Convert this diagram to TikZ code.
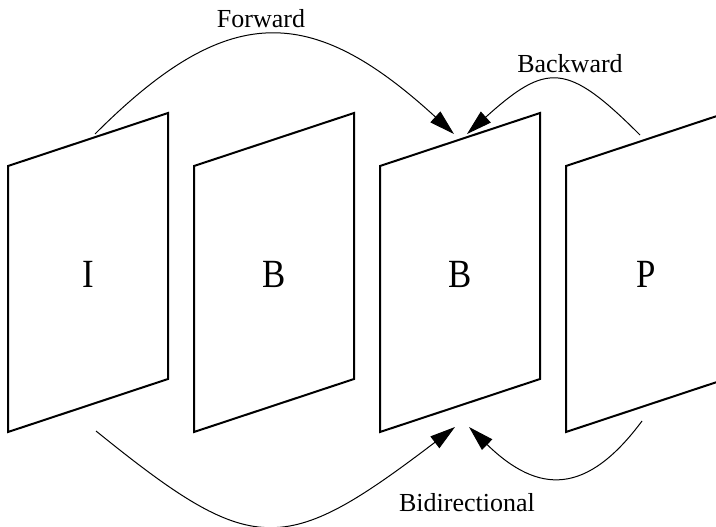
\documentclass[tikz,border=0pt]{standalone}
\usepackage{fontspec}
\setmainfont{Liberation Serif}
\newfontfamily\framefont[FakeStretch=0.87]{Liberation Serif}
\usetikzlibrary{arrows.meta}

\begin{document}
\begin{tikzpicture}[
    x=0.75pt, y=-0.75pt,
    frame/.style={draw=black, line width=1.5pt, line join=miter},
    framelbl/.style={font=\framefont\fontsize{30}{36}\selectfont, anchor=base},
    lbl/.style={font=\fontsize{19.5}{23}\selectfont, anchor=base},
    arr/.style={-{Triangle[length=19pt, width=11pt]}, line width=0.75pt, draw=black}
]
\useasboundingbox (0,0) rectangle (716,527);
\clip (0,0) rectangle (716,527);

% frames
\foreach \name/\txt [count=\i from 0] in {fI/I, fB/B, fBb/B, fP/P} {
  \draw[frame] (\i*186+8, 166) -- ++(160,-53) -- ++(0,266) -- ++(-160,53) -- cycle;
  \node[framelbl] (\name) at (\i*186+88, 287) {\txt};
}

% arrow ends
\coordinate (fwdsrc) at (95,134);
\coordinate (fwdtip) at (454,134);
\coordinate (bwdsrc) at (640,135);
\coordinate (bwdtip) at (467,134);
\coordinate (bisrcI) at (96,431);
\coordinate (bitipI) at (455,427);
\coordinate (bisrcP) at (642,421);
\coordinate (bitipP) at (469,427);

\draw[arr] (fwdsrc) .. controls (227,2) and (310,2) .. (fwdtip);
\draw[arr] (bwdsrc) .. controls (567,62) and (547,62) .. (bwdtip);
\draw[arr] (bisrcI) .. controls (253,558) and (283,558) .. (bitipI);
\draw[arr] (bisrcP) .. controls (587,495) and (539,495) .. (bitipP);

\node[lbl] (fwdlbl) at (261,28) {Forward};
\node[lbl] (bwdlbl) at (570,73) {Backward};
\node[lbl] (bilbl) at (467,511) {Bidirectional};

\end{tikzpicture}
\end{document}
